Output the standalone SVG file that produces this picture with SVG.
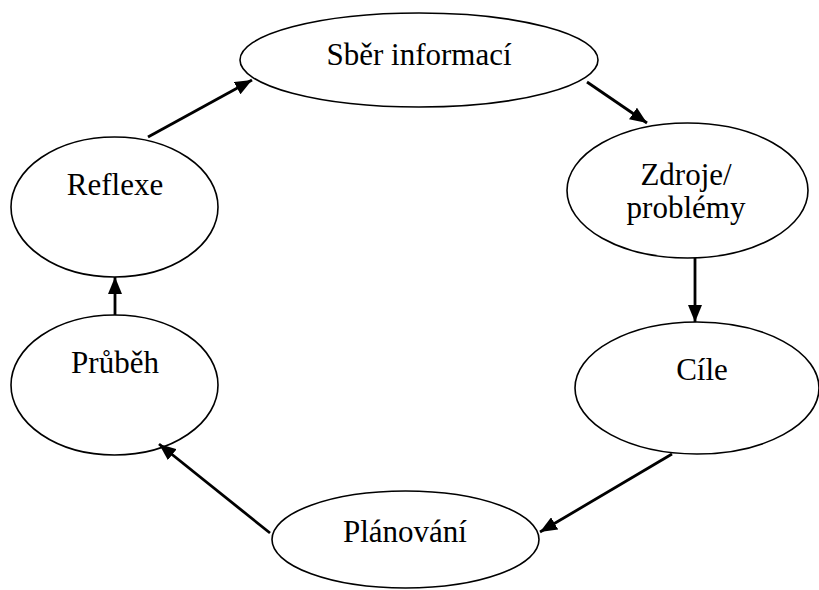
<svg xmlns="http://www.w3.org/2000/svg" width="819" height="590" viewBox="0 0 819 590">
<style>
.node ellipse{fill:#fff;stroke:#000;stroke-width:1.6}
.node text{font-family:"Liberation Serif","Times New Roman",serif;font-size:31px;fill:#000;text-anchor:middle}
.edge{stroke:#000;stroke-width:2.8;fill:none;marker-end:url(#arr)}
</style>
<defs>
<marker id="arr" markerUnits="userSpaceOnUse" markerWidth="18" markerHeight="14" refX="17" refY="7" orient="auto">
<path d="M0,0 L17,7 L0,14 z" fill="#000"/>
</marker>
</defs>
<rect width="819" height="590" fill="#fff"/>
<g id="n-sber" class="node"><ellipse cx="419" cy="60" rx="179" ry="47"/><text x="419" y="65">Sběr informací</text></g>
<g id="n-zdroje" class="node"><ellipse cx="687.5" cy="190.5" rx="120.5" ry="67.5"/><text x="686" y="185">Zdroje/</text><text x="686" y="218">problémy</text></g>
<g id="n-cile" class="node"><ellipse cx="697" cy="388" rx="122" ry="66"/><text x="702" y="380">Cíle</text></g>
<g id="n-planovani" class="node"><ellipse cx="405.5" cy="539.5" rx="133.5" ry="48.5"/><text x="405" y="542">Plánování</text></g>
<g id="n-prubeh" class="node"><ellipse cx="114.5" cy="385" rx="103.5" ry="70"/><text x="115" y="373">Průběh</text></g>
<g id="n-reflexe" class="node"><ellipse cx="114.5" cy="207" rx="103.5" ry="70"/><text x="115" y="195">Reflexe</text></g>
<g id="connectors">
<line class="edge" x1="148" y1="137" x2="252" y2="80"/>
<line class="edge" x1="587" y1="82" x2="647" y2="123"/>
<line class="edge" x1="695" y1="258" x2="695" y2="322"/>
<line class="edge" x1="672" y1="454" x2="540" y2="532"/>
<line class="edge" x1="270" y1="533" x2="159" y2="444"/>
<line class="edge" x1="115" y1="315" x2="115" y2="277"/>
</g>
</svg>
